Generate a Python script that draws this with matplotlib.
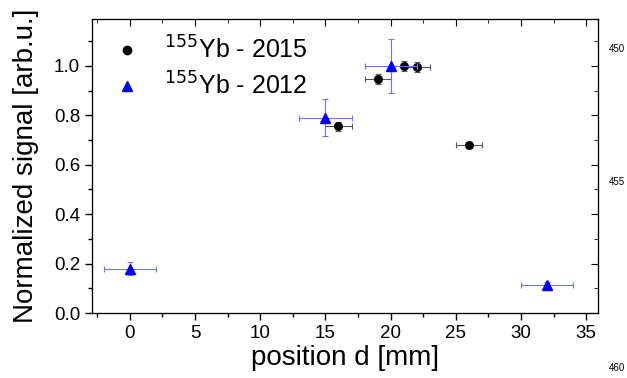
import matplotlib
matplotlib.use("Agg")
import matplotlib.pyplot as plt
import numpy as np
from matplotlib.ticker import MultipleLocator, FormatStrFormatter
from matplotlib.lines import Line2D

plt.rcParams['font.family'] = ['Liberation Sans', 'DejaVu Sans']

# 155Yb - 2015 data
x15 = [16, 19, 21, 22, 26]
y15 = [0.755, 0.948, 1.0, 0.997, 0.68]
xerr15 = [1, 1, 1, 1, 1]
yerr15 = [0.02, 0.02, 0.02, 0.02, 0.012]

# 155Yb - 2012 data
x12 = [0, 15, 20, 32]
y12 = [0.18, 0.79, 1.0, 0.115]
xerr12 = [2, 2, 2, 2]
yerr12 = [0.027, 0.075, 0.11, 0.01]

labels = ['$^{155}$Yb - 2015', '$^{155}$Yb - 2012']

fig = plt.figure(figsize=(6.27, 3.78), dpi=100)
ax = fig.add_axes([92/627, 1-313/378, (598-92)/627, (313-19)/378])

ax.errorbar(x15, y15, xerr=xerr15, yerr=yerr15, fmt='o', color='black',
            ecolor='#555555', elinewidth=0.8, capsize=2.5, capthick=0.8,
            markersize=5.5, zorder=3)
ax.errorbar(x12, y12, xerr=xerr12, yerr=yerr12, fmt='^', color='blue',
            ecolor='#7070ff', elinewidth=0.8, capsize=2.5, capthick=0.8,
            markersize=7, zorder=4)

ax.set_xlim(-2.9, 35.9)
ax.set_ylim(0, 1.19)
ax.xaxis.set_major_locator(MultipleLocator(5))
ax.xaxis.set_minor_locator(MultipleLocator(2.5))
ax.yaxis.set_major_locator(MultipleLocator(0.2))
ax.yaxis.set_minor_locator(MultipleLocator(0.1))
ax.yaxis.set_major_formatter(FormatStrFormatter('%.1f'))

ax.tick_params(which='both', direction='out', top=False, right=False, labelsize=13.5, width=1)
ax.tick_params(which='major', length=5)
ax.tick_params(which='minor', length=3)

# inward ticks on top and right
ax2 = ax.twinx()
ax2.set_ylim(ax.get_ylim())
ax2.yaxis.set_major_locator(MultipleLocator(0.2))
ax2.yaxis.set_minor_locator(MultipleLocator(0.1))
ax2.tick_params(which='both', direction='in', labelright=False)
ax2.tick_params(which='major', length=5)
ax2.tick_params(which='minor', length=3)
ax3 = ax.twiny()
ax3.set_xlim(ax.get_xlim())
ax3.xaxis.set_major_locator(MultipleLocator(5))
ax3.xaxis.set_minor_locator(MultipleLocator(2.5))
ax3.tick_params(which='both', direction='in', labeltop=False)
ax3.tick_params(which='major', length=5)
ax3.tick_params(which='minor', length=3)

ax.set_xlabel('position d [mm]', fontsize=20, labelpad=2)
ax.set_ylabel('Normalized signal [arb.u.]', fontsize=20, labelpad=11)

handles = [Line2D([], [], ls='none', marker='o', color='black', markersize=6),
           Line2D([], [], ls='none', marker='^', color='blue', markersize=7.5)]
ax3.legend(handles, labels, loc='upper left', frameon=False, fontsize=18,
           handletextpad=0.8, borderaxespad=0.3, labelspacing=0.35,
           handlelength=1.4, borderpad=0.4)

fig.text(609/627, 1-49/378, '450', fontsize=7, va='center')
fig.text(609/627, 1-182/378, '455', fontsize=7, va='center')
fig.text(609/627, 1-368/378, '460', fontsize=7, va='center')

fig.savefig('out.png', dpi=100)
